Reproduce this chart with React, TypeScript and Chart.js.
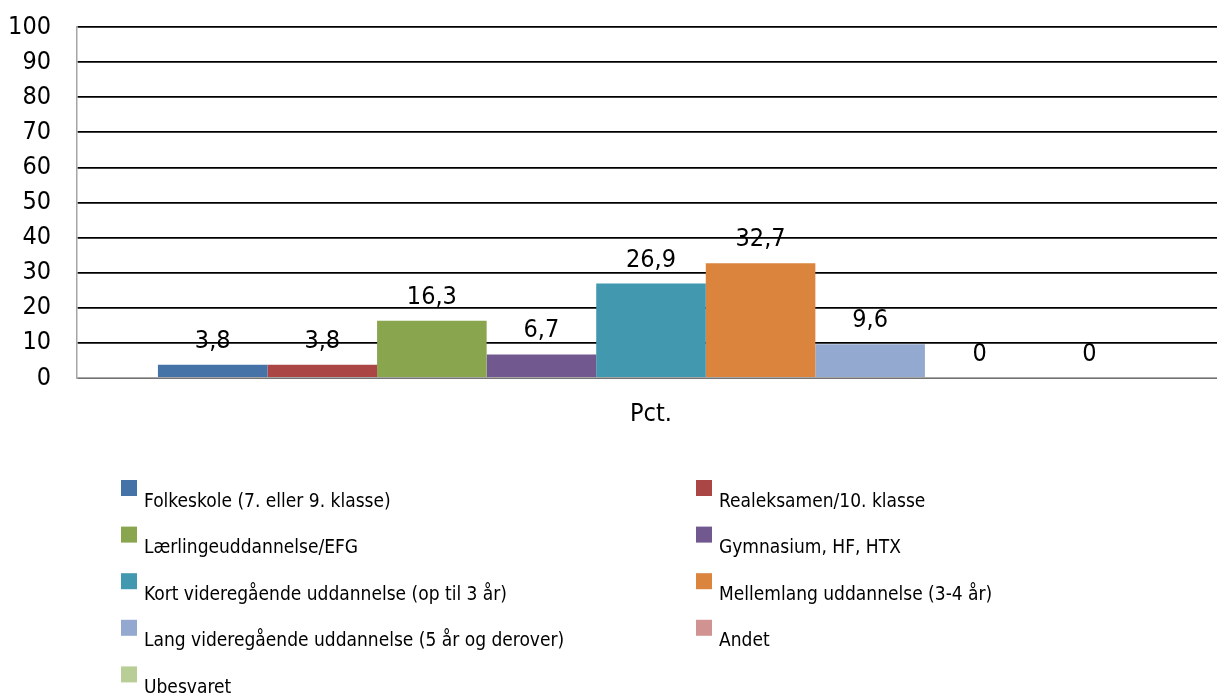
import React, { useEffect, useRef } from "react";
import { Chart, registerables } from "chart.js";

Chart.register(...registerables);

const categories = ["Pct."];
const seriesNames = [
  "Folkeskole (7. eller 9. klasse)",
  "Realeksamen/10. klasse",
  "Lærlingeuddannelse/EFG",
  "Gymnasium, HF, HTX",
  "Kort videregående uddannelse (op til 3 år)",
  "Mellemlang uddannelse (3-4 år)",
  "Lang videregående uddannelse (5 år og derover)",
  "Andet",
  "Ubesvaret",
];
const seriesValues = [3.8, 3.8, 16.3, 6.7, 26.9, 32.7, 9.6, 0, 0];
const seriesColors = [
  "#4572A7",
  "#AA4643",
  "#89A54E",
  "#71588F",
  "#4198AF",
  "#DB843D",
  "#93A9CF",
  "#D19392",
  "#B9CD96",
];
const yTicks = [0, 10, 20, 30, 40, 50, 60, 70, 80, 90, 100];

const FONT = "'DejaVu Sans Condensed', 'DejaVu Sans', sans-serif";

const dataLabelPlugin = {
  id: "dataLabels",
  afterDatasetsDraw(chart: any) {
    const ctx = chart.ctx;
    ctx.save();
    ctx.font = `25px ${FONT}`;
    ctx.fillStyle = "#000";
    ctx.textAlign = "center";
    ctx.textBaseline = "alphabetic";
    chart.data.datasets.forEach((ds: any, i: number) => {
      const meta = chart.getDatasetMeta(i);
      meta.data.forEach((bar: any, j: number) => {
        const v = ds.data[j];
        const txt = String(v).replace(".", ",");
        ctx.fillText(txt, bar.x, bar.y - 17);
      });
    });
    ctx.restore();
  },
};

const legendPlugin = {
  id: "customLegend",
  afterDraw(chart: any) {
    const ctx = chart.ctx;
    ctx.save();
    ctx.font = `19px ${FONT}`;
    ctx.textAlign = "left";
    ctx.textBaseline = "alphabetic";
    const colX = [121, 696];
    const rowStep = 46.6;
    seriesNames.forEach((name, i) => {
      const col = i % 2;
      const row = Math.floor(i / 2);
      const bx = colX[col];
      const by = 480 + row * rowStep;
      ctx.fillStyle = seriesColors[i];
      ctx.fillRect(bx, by, 16, 16);
      ctx.fillStyle = "#000";
      ctx.fillText(name, bx + 23, by + 26.5);
    });
    ctx.restore();
  },
};

export default function App() {
  const ref = useRef<HTMLCanvasElement | null>(null);
  useEffect(() => {
    document.body.style.margin = "0";
    const canvas = ref.current!;
    const chart = new Chart(canvas, {
      type: "bar",
      data: {
        labels: categories,
        datasets: seriesNames.map((name, i) => ({
          label: name,
          data: [seriesValues[i]],
          backgroundColor: seriesColors[i],
          borderWidth: 0,
          categoryPercentage: 0.859,
          barPercentage: 1,
        })),
      },
      options: {
        responsive: false,
        animation: false,
        devicePixelRatio: 1,
        layout: { padding: { top: 27, left: 0, right: 0, bottom: 0 } },
        plugins: {
          legend: { display: false },
          tooltip: { enabled: false },
          title: { display: false },
        },
        scales: {
          x: {
            grid: { display: false, drawTicks: false },
            border: { color: "#A6A6A6", width: 1.5 },
            ticks: {
              color: "#000",
              font: { family: FONT, size: 25 },
              padding: 21,
            },
            afterFit(scale: any) {
              scale.height = 695 - 378;
              scale.paddingLeft = 0;
              scale.paddingRight = 0;
            },
          },
          y: {
            min: 0,
            max: 100,
            afterBuildTicks(scale: any) {
              scale.ticks = yTicks.map((v) => ({ value: v }));
            },
            grid: { color: "#000", lineWidth: 1.8, drawTicks: false },
            border: { color: "#A6A6A6", width: 1.5 },
            ticks: {
              color: "#000",
              font: { family: FONT, size: 25 },
              padding: 26,
            },
            afterFit(scale: any) {
              scale.width = 77;
              scale.paddingTop = 0;
              scale.paddingBottom = 0;
            },
          },
        },
      },
      plugins: [dataLabelPlugin, legendPlugin],
    });
    return () => chart.destroy();
  }, []);
  return (
    <div style={{ width: 1217, height: 695, overflow: "hidden", background: "#fff" }}>
      <canvas ref={ref} width={1225} height={695} style={{ display: "block" }} />
    </div>
  );
}
